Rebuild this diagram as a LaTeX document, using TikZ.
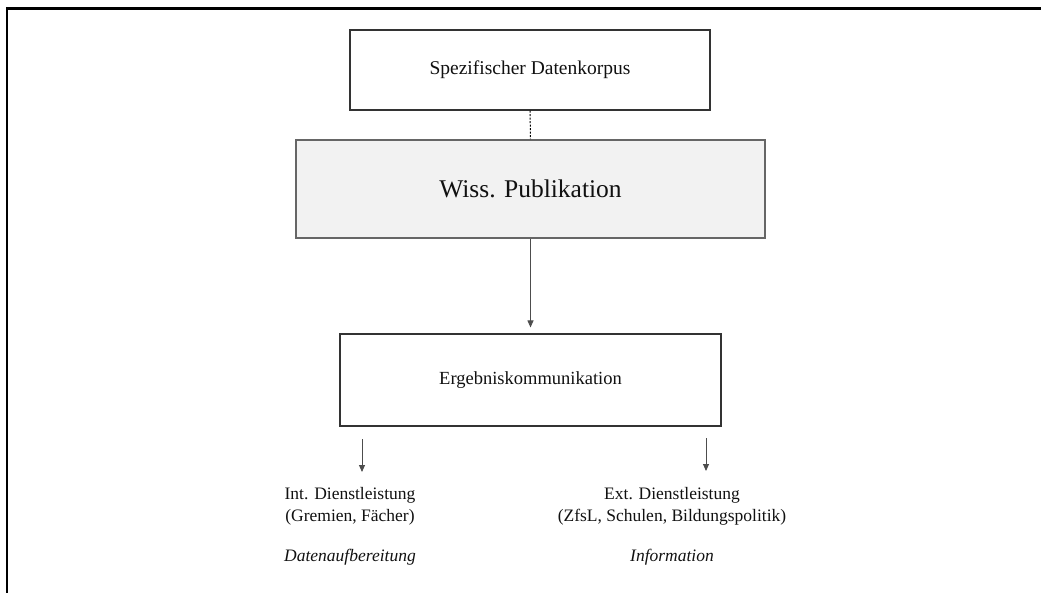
\documentclass[tikz,border=0pt]{standalone}
\usepackage{fontspec}
\setmainfont{Liberation Serif}
\usetikzlibrary{arrows.meta}
\definecolor{wpFrame}{HTML}{000000}
\definecolor{wpLine}{HTML}{4D4D4D}
\definecolor{wpFill}{HTML}{F2F2F2}
\definecolor{wpText}{HTML}{111111}
\tikzset{
  wp frame/.style={draw=wpFrame, line width=2.2pt},
  wp box/.style={draw=black!80, line width=1.1pt, fill=white, inner sep=0pt, text=wpText},
  wp main/.style={wp box, draw=black!60, line width=1.6pt, fill=wpFill},
  wp arrow/.style={draw=wpLine, line width=0.9pt, -{Triangle[length=7pt,width=6pt]}},
  wp dotted/.style={draw=black, line width=1pt, dash pattern=on 2pt off 1.5pt},
  wp label/.style={align=center, inner sep=0pt, text=wpText, font=\fontsize{17.5}{22}\selectfont},
  wp note/.style={wp label, font=\fontsize{17.5}{22}\selectfont\itshape},
}
\begin{document}
\begin{tikzpicture}[x=1pt,y=-1pt]
  \useasboundingbox (0,0) rectangle (1041,592);
  % outer frame, only top and left edge visible
  \draw[wp frame] (7,620) -- (7,8.5) -- (1060,8.5);
  % boxes
  \node[wp box, minimum width=360pt, minimum height=80pt, font=\fontsize{19.5}{23}\selectfont]
    (corpus) at (530,70) {Spezifischer Datenkorpus};
  \node[wp main, minimum width=469pt, minimum height=98pt, font=\fontsize{25.5}{30}\selectfont]
    (pub) at (530.5,189) {Wiss. Publikation};
  \node[wp box, minimum width=381pt, minimum height=92pt, font=\fontsize{18.5}{22}\selectfont]
    (result) at (530.5,380) {Ergebniskommunikation};
  % links between boxes
  \draw[wp dotted] (corpus.south) -- (pub.north);
  \draw[wp arrow, shorten >=6pt] (pub.south) -- (result.north);
  % service targets
  \node[wp label] (intserv) at (350,506) {Int. Dienstleistung\\(Gremien, Fächer)};
  \node[wp note] (intnote) at (350,557) {Datenaufbereitung};
  \node[wp label] (extserv) at (672,506) {Ext. Dienstleistung\\(ZfsL, Schulen, Bildungspolitik)};
  \node[wp note] (extnote) at (672,557) {Information};
  \coordinate (intfrom) at (362,439);
  \coordinate (extfrom) at (706,438);
  \draw[wp arrow] (intfrom) -- ++(0,33);
  \draw[wp arrow] (extfrom) -- ++(0,33);
\end{tikzpicture}
\end{document}
